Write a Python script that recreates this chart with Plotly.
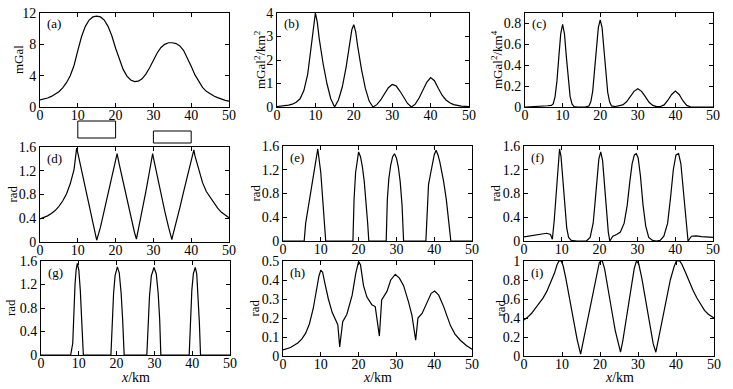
import plotly.graph_objects as go

W, H = 733, 389

# ---------------- data ----------------
a_x = list(range(0, 51))
a_y = [0.9, 1.0, 1.15, 1.35, 1.6, 1.95, 2.45, 3.1, 4.0, 5.3, 7.2, 9.0, 10.3, 11.1, 11.5, 11.6,
       11.5, 11.1, 10.3, 9.1, 7.5, 6.0, 4.8, 3.95, 3.45, 3.25, 3.3, 3.6, 4.2, 5.0, 6.0, 6.9, 7.6,
       8.0, 8.2, 8.2, 8.1, 7.8, 7.2, 6.3, 5.2, 4.1, 3.2, 2.5, 2.0, 1.65, 1.4, 1.2, 1.0, 0.85, 0.75]

b_x = [0, 1, 2, 3, 4, 5, 6, 7, 8, 9, 9.5, 10, 10.5, 11, 12, 13, 14, 15, 16, 17, 18, 19, 19.5, 20,
       20.5, 21, 22, 23, 24, 25, 26, 27, 28, 29, 30, 31, 32, 33, 34, 35, 36, 37, 38, 39, 40, 41,
       42, 43, 44, 45, 46, 47, 48, 49, 50]
b_y = [0.02, 0.03, 0.05, 0.08, 0.12, 0.2, 0.35, 0.7, 1.4, 2.7, 3.5, 4.0, 3.6, 2.9, 1.85, 1.0, 0.35,
       0.0, 0.3, 0.85, 1.7, 2.75, 3.3, 3.5, 3.2, 2.6, 1.6, 0.8, 0.25, 0.0, 0.1, 0.3, 0.55, 0.82,
       0.96, 0.9, 0.68, 0.4, 0.15, 0.0, 0.12, 0.38, 0.72, 1.05, 1.25, 1.12, 0.8, 0.5, 0.3, 0.18,
       0.1, 0.06, 0.04, 0.03, 0.02]

c_x = [0, 2, 4, 5, 6, 7, 7.5, 8, 8.5, 9, 9.5, 10, 10.5, 11, 11.5, 12, 12.5, 13, 14, 16, 17, 17.5,
       18, 18.5, 19, 19.5, 20, 20.5, 21, 21.5, 22, 22.5, 23, 24, 25, 26, 27, 28, 29, 30, 31, 32,
       33, 34, 35, 36, 37, 38, 39, 40, 41, 42, 43, 44, 45, 50]
c_y = [0, 0.002, 0.006, 0.01, 0.012, 0.015, 0.03, 0.1, 0.25, 0.48, 0.7, 0.79, 0.7, 0.48, 0.25,
       0.1, 0.03, 0.005, 0, 0, 0.01, 0.05, 0.15, 0.33, 0.55, 0.76, 0.835, 0.76, 0.55, 0.32, 0.14,
       0.05, 0.01, 0.005, 0.01, 0.02, 0.05, 0.1, 0.15, 0.175, 0.15, 0.1, 0.045, 0.015, 0.003,
       0.005, 0.02, 0.065, 0.12, 0.152, 0.12, 0.06, 0.015, 0.002, 0, 0]

d_x = [0, 1, 2, 3, 4, 5, 6, 7, 8, 9, 9.7, 10, 11, 12, 13, 14, 15, 16, 17, 18, 19, 20, 20.4, 21,
       22, 23, 24, 25, 25.5, 26, 27, 28, 29, 29.8, 30, 31, 32, 33, 34, 34.9, 35, 36, 37, 38, 39,
       40, 40.7, 41, 42, 43, 44, 45, 46, 47, 48, 49, 50]
d_y = [0.39, 0.41, 0.44, 0.48, 0.53, 0.6, 0.69, 0.81, 0.98, 1.22, 1.58, 1.5, 1.2, 0.91, 0.62,
       0.32, 0.03, 0.25, 0.52, 0.8, 1.1, 1.38, 1.49, 1.3, 1.0, 0.7, 0.42, 0.16, 0.05, 0.2, 0.5,
       0.85, 1.2, 1.49, 1.42, 1.1, 0.8, 0.52, 0.25, 0.04, 0.08, 0.32, 0.58, 0.85, 1.1, 1.35, 1.55,
       1.45, 1.2, 1.0, 0.85, 0.75, 0.65, 0.57, 0.5, 0.45, 0.41]

e_x = [0, 5.6, 6, 6.8, 7.5, 8, 8.5, 9.2, 10, 10.5, 11, 11.3, 18.5, 18.8, 19.2, 19.6, 20, 20.5,
       21, 21.5, 22, 22.4, 22.7, 27.3, 27.6, 28, 28.5, 29, 29.5, 30, 30.5, 31, 31.5, 31.9, 37.8,
       38.3, 38.5, 39, 39.5, 40, 40.5, 41, 41.5, 42, 42.5, 43.2, 43.8, 44.4, 50]
e_y = [0, 0, 0.3, 0.6, 0.85, 1.05, 1.25, 1.55, 1.15, 0.75, 0.3, 0, 0, 0.7, 1.15, 1.38, 1.5, 1.42,
       1.25, 1.0, 0.65, 0.3, 0, 0, 0.7, 1.05, 1.28, 1.42, 1.47, 1.4, 1.25, 1.0, 0.6, 0, 0, 0.88,
       0.95, 1.12, 1.3, 1.45, 1.53, 1.45, 1.33, 1.18, 1.0, 0.7, 0.35, 0, 0]

f_x = [0, 2, 4, 6, 7, 7.5, 8, 8.5, 9, 9.4, 9.8, 10.3, 10.8, 11.3, 11.8, 12.5, 14, 16.5, 17.5,
       18.3, 18.8, 19.3, 19.8, 20.3, 20.8, 21.3, 21.8, 22.3, 22.7, 23.5, 24.5, 25.5, 26.5, 27.3,
       28, 28.6, 29.2, 29.7, 30.2, 30.8, 31.5, 32.2, 33, 34, 35, 36, 37, 38, 38.8, 39.5, 40.2,
       40.9, 41.5, 42, 42.5, 43, 43.4, 44.3, 45.5, 47, 50]
f_y = [0.07, 0.09, 0.11, 0.13, 0.11, 0.03, 0.35, 0.8, 1.3, 1.55, 1.42, 1.0, 0.55, 0.22, 0.06,
       0.01, 0, 0, 0.06, 0.3, 0.65, 1.05, 1.38, 1.5, 1.35, 0.95, 0.5, 0.15, 0.0, 0.08, 0.11,
       0.15, 0.3, 0.6, 1.0, 1.3, 1.45, 1.47, 1.4, 1.1, 0.6, 0.25, 0.06, 0.01, 0, 0.01, 0.08, 0.3,
       0.75, 1.2, 1.45, 1.47, 1.3, 0.95, 0.5, 0.15, 0.0, 0.08, 0.085, 0.075, 0.06]

g_x = [0, 7.85, 8.4, 8.7, 9.0, 9.3, 9.6, 10.0, 10.4, 10.8, 11.2, 18.5, 18.8, 19.2, 19.6, 20.2,
       20.7, 21.2, 21.6, 22.0, 28.0, 28.3, 28.7, 29.2, 29.9, 30.5, 31.0, 31.4, 31.7, 39.2, 39.5,
       39.9, 40.3, 40.8, 41.2, 41.6, 41.9, 42.2, 50]
g_y = [0, 0, 0.2, 0.75, 1.2, 1.45, 1.56, 1.45, 1.1, 0.55, 0, 0, 0.5, 1.05, 1.35, 1.5, 1.4, 1.05,
       0.6, 0, 0, 0.5, 1.0, 1.35, 1.49, 1.38, 1.05, 0.6, 0, 0, 0.6, 1.1, 1.38, 1.49, 1.38, 1.0,
       0.55, 0, 0]

h_x = [0, 2, 4, 5, 6, 7, 8, 9, 9.5, 10, 10.5, 11, 12, 13, 14, 14.5, 15.0, 15.8, 16.9, 18.3,
       19.3, 20, 20.5, 21.3, 22.2, 23.5, 24.4, 25.5, 26.1, 27.5, 28.5, 29.7, 30.8, 31.9, 33.2,
       34.1, 35.1, 35.7, 36.8, 38.1, 39.2, 40.1, 41.2, 42.5, 43.5, 44.3, 45.5, 46.9, 48.5, 50]
h_y = [0.032, 0.045, 0.07, 0.09, 0.12, 0.17, 0.25, 0.36, 0.42, 0.452, 0.44, 0.39, 0.3, 0.23,
       0.185, 0.165, 0.048, 0.18, 0.22, 0.32, 0.44, 0.497, 0.48, 0.37, 0.31, 0.27, 0.26, 0.105,
       0.295, 0.34, 0.4, 0.43, 0.41, 0.37, 0.285, 0.215, 0.083, 0.2, 0.224, 0.285, 0.33, 0.342,
       0.32, 0.26, 0.2, 0.16, 0.115, 0.083, 0.055, 0.036]

i_x = [0, 1, 2, 3, 4, 5, 6, 7, 8, 8.7, 9.2, 9.8, 10.3, 11, 12, 13, 14, 14.9, 15.8, 17, 18, 19,
       19.8, 20.2, 20.6, 21.2, 22, 23, 24, 25, 25.4, 26, 27, 28, 29, 29.6, 30.2, 31, 32, 33, 34,
       34.7, 35.5, 36.5, 37.5, 38.5, 39.5, 40.1, 41.0, 41.6, 42.5, 43.5, 44.5, 45.5, 46.5, 47.5,
       48.5, 50]
i_y = [0.38, 0.41, 0.45, 0.5, 0.55, 0.61, 0.68, 0.77, 0.87, 0.96, 1.0, 1.0, 0.95, 0.82, 0.6, 0.38,
       0.17, 0.02, 0.2, 0.45, 0.66, 0.85, 0.98, 1.0, 1.0, 0.92, 0.75, 0.5, 0.27, 0.08, 0.04, 0.16,
       0.43, 0.7, 0.92, 1.0, 0.97, 0.82, 0.58, 0.35, 0.13, 0.04, 0.2, 0.42, 0.62, 0.8, 0.94, 1.0,
       1.0, 0.96, 0.88, 0.78, 0.69, 0.61, 0.54, 0.48, 0.44, 0.4]

panel_labels = ["(a)", "(b)", "(c)", "(d)", "(e)", "(f)", "(g)", "(h)", "(i)"]
y_titles = ["mGal", "mGal<sup>2</sup>/km<sup>2</sup>", "mGal<sup>2</sup>/km<sup>4</sup>",
            "rad", "rad", "rad", "rad", "rad", "rad"]
y_ranges = [[0, 12], [0, 4], [0, 0.9], [0, 1.6], [0, 1.6], [0, 1.6], [0, 1.6], [0, 0.5], [0, 1]]
y_ticks = [[0, 4, 8, 12], [0, 1, 2, 3, 4], [0, 0.2, 0.4, 0.6, 0.8],
           [0, 0.4, 0.8, 1.2, 1.6], [0, 0.4, 0.8, 1.2, 1.6], [0, 0.4, 0.8, 1.2, 1.6],
           [0, 0.4, 0.8, 1.2, 1.6], [0, 0.1, 0.2, 0.3, 0.4, 0.5], [0, 0.2, 0.4, 0.6, 0.8, 1]]
x_ticks = [0, 10, 20, 30, 40, 50]
x_title = "<i>x</i>/km"
rect_spans = [[10, 20], [30, 40]]

series = [(a_x, a_y), (b_x, b_y), (c_x, c_y), (d_x, d_y), (e_x, e_y), (f_x, f_y),
          (g_x, g_y), (h_x, h_y), (i_x, i_y)]

# ---------------- layout geometry (pixels) ----------------
boxes = [  # left, right, top, bottom
    (40, 229, 13, 107), (277, 469, 13, 107), (525, 713, 13, 107),
    (40, 229, 147, 242), (283, 472, 146, 241), (524, 713, 146, 241),
    (41, 230, 261, 355), (283, 472, 261, 356), (524, 714, 261, 356),
]
ytitle_x = [19, 260, 497, 12, 255, 495, 10, 254, 500]

FONT = "Liberation Serif, Times New Roman, serif"

fig = go.Figure()
layout = dict(
    template="none",
    width=W, height=H, margin=dict(l=0, r=0, t=0, b=0, pad=0, autoexpand=False),
    paper_bgcolor="white", plot_bgcolor="white", showlegend=False,
    font=dict(family=FONT, size=14, color="black"),
)
annotations = []
shapes = []

for k, (xs, ys) in enumerate(series):
    n = k + 1
    sfx = "" if n == 1 else str(n)
    l, r, t, b = boxes[k]
    fig.add_trace(go.Scatter(x=xs, y=ys, mode="lines",
                             line=dict(color="black", width=1.2),
                             xaxis="x" + sfx, yaxis="y" + sfx, hoverinfo="skip"))
    common = dict(showline=True, linecolor="black", linewidth=1, mirror="ticks",
                  ticks="inside", ticklen=4, tickwidth=1, tickcolor="black",
                  showgrid=False, zeroline=False, automargin=False,
                  tickfont=dict(family=FONT, size=14, color="black"))
    layout["xaxis" + sfx] = dict(domain=[l / W, r / W], anchor="y" + sfx, range=[0, 50],
                                 tickvals=x_ticks, ticklabelstandoff=-5, **common)
    layout["yaxis" + sfx] = dict(domain=[1 - b / H, 1 - t / H], anchor="x" + sfx,
                                 range=y_ranges[k], tickvals=y_ticks[k], **common)
    annotations.append(dict(text=panel_labels[k], xref="paper", yref="paper",
                            x=(l + 5) / W, y=1 - (t + 11) / H, xanchor="left",
                            yanchor="middle", showarrow=False,
                            font=dict(family=FONT, size=13, color="black")))
    annotations.append(dict(text=y_titles[k], xref="paper", yref="paper",
                            x=ytitle_x[k] / W, y=1 - ((t + b) / 2) / H, textangle=-90,
                            xanchor="center", yanchor="middle", showarrow=False,
                            font=dict(family=FONT, size=13, color="black")))
    if k >= 6:
        annotations.append(dict(text=x_title, xref="paper", yref="paper",
                                x=((l + r) / 2) / W, y=1 - 377 / H, xanchor="center",
                                yanchor="middle", showarrow=False,
                                font=dict(family=FONT, size=14, color="black")))

# model bodies sketch between (a) and (d)
rect_px = [(121, 138), (131, 143)]
for (x0, x1), (py0, py1) in zip(rect_spans, rect_px):
    shapes.append(dict(type="rect", xref="x", yref="paper", x0=x0, x1=x1,
                       y0=1 - py1 / H, y1=1 - py0 / H,
                       line=dict(color="black", width=1), fillcolor="rgba(0,0,0,0)"))

layout["annotations"] = annotations
layout["shapes"] = shapes
fig.update_layout(**layout)
fig.write_html("out.html", config={"displayModeBar": False},
               post_script="document.body.style.margin='0px';document.body.style.padding='0px';")
